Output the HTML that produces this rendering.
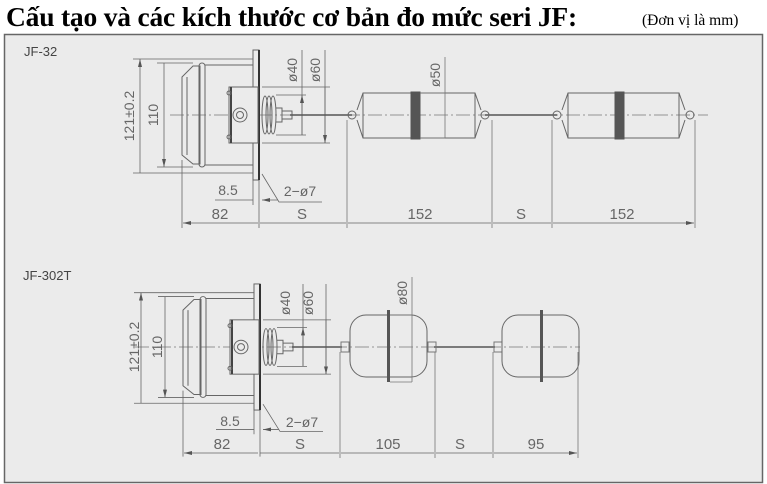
<!DOCTYPE html>
<html><head><meta charset="utf-8"><style>
body{margin:0;width:767px;height:484px;background:#fff;overflow:hidden;position:relative}
.t{position:absolute;font-family:"Liberation Serif","Noto Serif CJK SC",serif;color:#000}
</style></head><body>
<div class="t" style="left:6px;top:1px;font-size:27.5px;font-weight:bold;letter-spacing:-0.2px">Cấu tạo và các kích thước cơ bản đo mức seri JF:</div>
<div class="t" style="left:642px;top:12px;font-size:15.5px">(Đơn vị là mm)</div>
<svg width="767" height="484" style="position:absolute;left:0;top:0" font-family="Liberation Sans, sans-serif">
<defs>
<marker id="a" viewBox="0 0 8 4" refX="8" refY="2" markerWidth="8" markerHeight="4" orient="auto-start-reverse" markerUnits="userSpaceOnUse"><path d="M0,0L8,2L0,4z" fill="#555"/></marker>
<g id="head" fill="none" stroke="#666" stroke-width="1">
  <path d="M182,77 L193,66 L200,66 L200,164 L193,164 L182,155 Z"/>
  <path d="M187,77 L187,155"/>
  <rect x="199" y="63" width="6" height="104" rx="3"/>
  <path d="M205,65 H253 M205,165 H253"/>
  <rect x="253" y="50" width="6" height="130" fill="#ebebeb"/>
  <path d="M259,50 V180" stroke="#333" stroke-width="2"/>
  <rect x="229" y="87" width="29" height="56" fill="#ebebeb"/>
  <path d="M231,87 V143" stroke="#444" stroke-width="2"/>
  <circle cx="229" cy="93" r="2"/><circle cx="229" cy="137" r="2"/>
  <circle cx="240" cy="115" r="7"/><circle cx="240" cy="115" r="3.5"/>
  <ellipse cx="265" cy="115" rx="3" ry="19"/>
  <ellipse cx="269" cy="115" rx="3" ry="19"/>
  <ellipse cx="273" cy="115" rx="3" ry="19"/>
  <path d="M276,108 H282 V122 H276"/>
  <rect x="282" y="111" width="10" height="8"/>
</g>
<g id="dims" fill="none" stroke="#666" stroke-width="0.8">
  <path d="M253,59 H133 M253,173 H133 M193,63 H157 M193,167 H157"/>
  <path d="M140,59 V173 M164,63 V167" marker-start="url(#a)" marker-end="url(#a)"/>
  <path d="M276,95 H306 M276,135 H306 M262,87 H330 M262,143 H330"/>
  <path d="M302,50 V135 M325,50 V143"/>
  <path d="M302,95 V135 M325,87 V143" marker-start="url(#a)" marker-end="url(#a)"/>
  <path d="M253,180 V205 M259,180 V228 M182,160 V228"/>
  <path d="M215,200 H253 M278,200 H262" marker-end="url(#a)"/>
  <path d="M262,174 L279,202 H322"/>
</g>
</defs>
<rect x="4.5" y="34.5" width="758" height="448" fill="#ebebeb" stroke="#666" stroke-width="1.5"/>
<text x="24" y="56" font-size="13" fill="#444">JF-32</text>
<text x="23" y="280" font-size="13" fill="#444">JF-302T</text>

<g stroke="#777" stroke-width="0.8" stroke-dasharray="14,3,2,3" fill="none"><path d="M170,115 H708"/><path d="M135,347 H580"/></g>
<use href="#head"/><use href="#dims"/>
<g fill="#666" font-size="14">
<text transform="translate(134,116) rotate(-90)" text-anchor="middle">121±0.2</text>
<text transform="translate(158,115) rotate(-90)" text-anchor="middle">110</text>
<text transform="translate(297,70) rotate(-90)" text-anchor="middle">ø40</text>
<text transform="translate(320,70) rotate(-90)" text-anchor="middle">ø60</text>
<text x="228" y="195" text-anchor="middle">8.5</text>
<text x="300" y="196" text-anchor="middle">2−ø7</text>
</g>
<g fill="none" stroke="#555">
<path d="M290,115 H352 M485,115 H557" stroke-width="1.4"/>
<path d="M357,110 L363,93 H475 L481,110 M357,120 L363,138 H475 L481,120 M363,93 V138 M475,93 V138" stroke="#666"/>
<circle cx="352" cy="115" r="4" stroke="#666"/><circle cx="485" cy="115" r="4" stroke="#666"/>
<rect x="411" y="92" width="9" height="47" fill="#555"/>
<path d="M420,93 H445 M420,138 H445 M445,57 V138" stroke="#777" stroke-width="0.8"/>
<path d="M562,110 L568,93 H679 L685,110 M562,120 L568,138 H679 L685,120 M568,93 V138 M679,93 V138" stroke="#666"/>
<circle cx="557" cy="115" r="4" stroke="#666"/><circle cx="690" cy="115" r="4" stroke="#666"/>
<rect x="615" y="92" width="9" height="47" fill="#555"/>
<path d="M347,120 V228 M492,120 V228 M552,120 V228 M695,120 V228" stroke="#777" stroke-width="0.8"/>
<path d="M183,223 H258 M260,223 H346 M348,223 H491 M493,223 H551 M553,223 H694" stroke="#666" stroke-width="0.8" marker-start="url(#a)" marker-end="url(#a)"/>
</g>
<text transform="translate(440,75) rotate(-90)" text-anchor="middle" font-size="14" fill="#666">ø50</text>
<g fill="#666" font-size="15" text-anchor="middle">
<text x="220" y="219">82</text><text x="302" y="219">S</text><text x="420" y="219">152</text><text x="521" y="219">S</text><text x="622" y="219">152</text>
</g>

<g transform="translate(1,232) translate(0,115) scale(1,0.97) translate(0,-115)"><use href="#head"/><use href="#dims"/></g>
<g fill="#666" font-size="14">
<text transform="translate(139,347) rotate(-90)" text-anchor="middle">121±0.2</text>
<text transform="translate(162,347) rotate(-90)" text-anchor="middle">110</text>
<text transform="translate(290,303) rotate(-90)" text-anchor="middle">ø40</text>
<text transform="translate(313,303) rotate(-90)" text-anchor="middle">ø60</text>
<text x="230" y="426" text-anchor="middle">8.5</text>
<text x="302" y="427" text-anchor="middle">2−ø7</text>
<text transform="translate(407,293) rotate(-90)" text-anchor="middle">ø80</text>
</g>
<g fill="none" stroke="#555">
<path d="M292,347 H342 M434,347 H495" stroke-width="1.4"/>
<rect x="341" y="342" width="8" height="10" stroke="#777"/><rect x="428" y="342" width="8" height="10" stroke="#777"/><rect x="494" y="342" width="8" height="10" stroke="#777"/>
<rect x="350" y="315" width="77" height="62" rx="16" stroke="#666"/>
<rect x="387" y="310" width="3" height="72" fill="#555" stroke="none"/>
<path d="M390,315 H412 M390,382 H412 M412,277 V382" stroke="#777" stroke-width="0.8"/>
<rect x="502" y="315" width="77" height="62" rx="16" stroke="#666"/>
<rect x="540" y="310" width="3" height="72" fill="#555" stroke="none"/>
<path d="M340,352 V458 M435,352 V458 M493,352 V458 M578,352 V458" stroke="#777" stroke-width="0.8"/>
<path d="M184,453 H258 M260,453 H339 M341,453 H434 M436,453 H492 M494,453 H577" stroke="#666" stroke-width="0.8" marker-start="url(#a)" marker-end="url(#a)"/>
</g>
<g fill="#666" font-size="15" text-anchor="middle">
<text x="222" y="449">82</text><text x="300" y="449">S</text><text x="388" y="449">105</text><text x="460" y="449">S</text><text x="536" y="449">95</text>
</g>
</svg>
</body></html>
